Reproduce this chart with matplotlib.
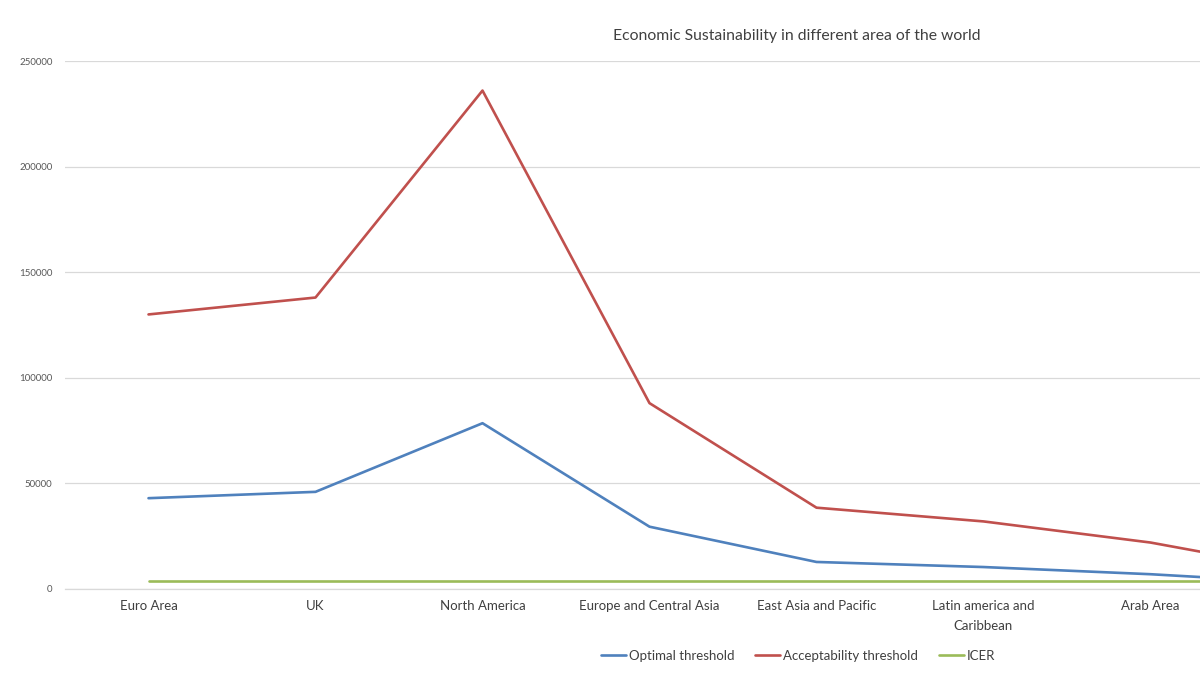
import numpy as np
import matplotlib
matplotlib.use("Agg")
import matplotlib.pyplot as plt

# Data (last category sits past the right edge of the image)
regions = ["Euro Area", "UK", "North America", "Europe and Central Asia",
           "East Asia and Pacific", "Latin america and\nCaribbean", "Arab Area", ""]
optimal = [43000, 46000, 78500, 29500, 12800, 10400, 7000, 2500]
acceptability = [130000, 138000, 236000, 88000, 38500, 32000, 22000, 7500]
icer = [3800, 3800, 3800, 3800, 3800, 3800, 3800, 3800]

plt.rcParams['font.family'] = ['Lato', 'DejaVu Sans']

fig = plt.figure(figsize=(12, 6.75), dpi=100)
# axes run past the right edge of the figure, as in the cropped original
ax = fig.add_axes([65 / 1200, 86 / 675, 1336 / 1200, 528 / 675])

x = np.arange(len(regions))
ax.plot(x, optimal, color='#4F81BD', lw=1.9, label='Optimal threshold', solid_capstyle='round')
ax.plot(x, acceptability, color='#C0504D', lw=1.9, label='Acceptability threshold', solid_capstyle='round')
ax.plot(x, icer, color='#9BBB59', lw=1.9, label='ICER', solid_capstyle='round')

ax.set_xlim(-0.5, len(regions) - 0.5)
ax.set_ylim(0, 250000)
ax.set_yticks(np.arange(0, 250001, 50000))
ax.set_xticks(x)
ax.set_xticklabels(regions, fontsize=9.5, color='#404040', linespacing=1.75)
ax.tick_params(axis='y', labelsize=7, labelcolor='#595959', length=0, pad=9)
ax.tick_params(axis='x', length=0, pad=8)
ax.grid(axis='y', color='#D9D9D9', lw=0.9)
ax.set_axisbelow(True)
for s in ['top', 'right', 'left']:
    ax.spines[s].set_visible(False)
ax.spines['bottom'].set_color('#D9D9D9')
ax.spines['bottom'].set_linewidth(0.9)

fig.text(797 / 1200, 1 - 36 / 675, 'Economic Sustainability in different area of the world',
         ha='center', va='center', fontsize=11.3, color='#404040')

fig.legend(loc='center', bbox_to_anchor=(798 / 1200, 19 / 675), ncol=3, frameon=False,
           fontsize=9.5, handlelength=1.9, handletextpad=0.2, columnspacing=1.6,
           labelcolor='#404040')

fig.savefig('out.png', dpi=100)
